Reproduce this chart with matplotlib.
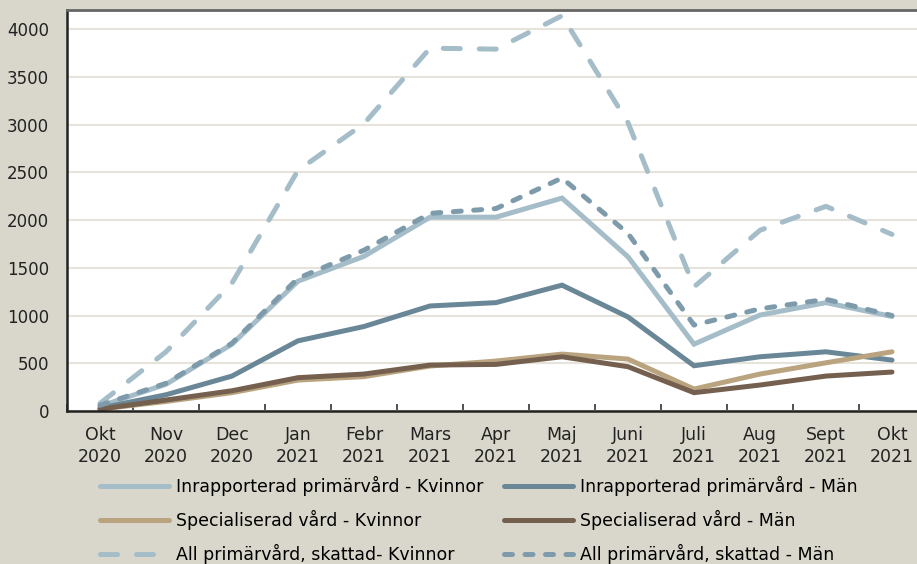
import matplotlib
matplotlib.use('Agg')
import matplotlib.pyplot as plt
from matplotlib.ticker import FixedLocator, MultipleLocator

# months on the x axis (two-line labels)
months = ["Okt\n2020", "Nov\n2020", "Dec\n2020", "Jan\n2021", "Febr\n2021", "Mars\n2021",
          "Apr\n2021", "Maj\n2021", "Juni\n2021", "Juli\n2021", "Aug\n2021", "Sept\n2021",
          "Okt\n2021"]

# values
inrap_kvinnor = [50, 280, 700, 1360, 1620, 2030, 2030, 2230, 1615, 700, 1005, 1135, 990]
inrap_man = [30, 170, 366, 735, 885, 1100, 1135, 1318, 985, 474, 568, 620, 533]
spec_kvinnor = [20, 100, 192, 324, 360, 471, 523, 596, 544, 230, 387, 505, 620]
spec_man = [20, 115, 212, 349, 387, 481, 488, 568, 464, 192, 272, 366, 408]
all_kvinnor = [80, 620, 1340, 2520, 3010, 3800, 3790, 4140, 3020, 1300, 1893, 2144, 1850]
all_man = [60, 290, 710, 1390, 1684, 2070, 2120, 2440, 1860, 900, 1070, 1170, 1000]

BG = '#d9d7cb'
C_LIGHT = '#a4bdc8'
C_DARK = '#6a8797'
C_MID = '#7e9bab'
C_TAN = '#b9a47f'
C_BROWN = '#75604f'

plt.rcParams['font.family'] = ['DejaVu Sans']
FS = 12.5

fig = plt.figure(figsize=(9.17, 5.64), dpi=100, facecolor=BG)
ax = fig.add_axes([67 / 917, 1 - 411 / 564, (925 - 67) / 917, (411 - 10) / 564])
ax.set_facecolor('white')

x = list(range(len(months)))
lw = 3.6
kw = dict(linewidth=lw, solid_capstyle='round', dash_capstyle='round', solid_joinstyle='miter')
l1, = ax.plot(x, inrap_kvinnor, color=C_LIGHT, label='Inrapporterad primärvård - Kvinnor', **kw)
l2, = ax.plot(x, inrap_man, color=C_DARK, label='Inrapporterad primärvård - Män', **kw)
l3, = ax.plot(x, spec_kvinnor, color=C_TAN, label='Specialiserad vård - Kvinnor', **kw)
l4, = ax.plot(x, spec_man, color=C_BROWN, label='Specialiserad vård - Män', **kw)
l5, = ax.plot(x, all_kvinnor, color=C_LIGHT, linestyle=(0, (3.4, 3.8)),
              label='All primärvård, skattad- Kvinnor', **kw)
l6, = ax.plot(x, all_man, color=C_MID, linestyle=(0, (1.6, 2.5)),
              label='All primärvård, skattad - Män', **kw)

ax.set_xlim(-0.5, len(months) - 0.5)
ax.set_ylim(0, 4200)
ax.yaxis.set_major_locator(FixedLocator(range(0, 4001, 500)))
ax.grid(axis='y', color='#e6e3da', linewidth=1.5)
ax.set_axisbelow(True)

ax.set_xticks(x)
ax.set_xticklabels(months, fontsize=FS, color='#222222')
for lbl in ax.get_xticklabels():
    lbl.set_linespacing(1.27)
ax.xaxis.set_minor_locator(MultipleLocator(1, offset=0.5))
ax.tick_params(axis='x', which='major', length=0, pad=11)
ax.tick_params(axis='x', which='minor', direction='in', length=5, width=1.2, color='#333333')
ax.tick_params(axis='y', length=0, pad=13, labelsize=12, labelcolor='#222222')

for side in ['left', 'bottom']:
    ax.spines[side].set_color('#222222')
    ax.spines[side].set_linewidth(1.8)
ax.spines['top'].set_color('#666666')
ax.spines['top'].set_linewidth(2)
ax.spines['right'].set_visible(False)

# legend: two columns placed separately
leg_kw = dict(frameon=False, fontsize=FS, handlelength=4.0, handletextpad=0.4,
              labelspacing=0.8, borderpad=0, borderaxespad=0, loc='upper left',
              bbox_transform=fig.transFigure)
fig.legend([l1, l3, l5], [l1.get_label(), l3.get_label(), l5.get_label()],
           bbox_to_anchor=(100 / 917, 1 - 476 / 564), **leg_kw)
fig.legend([l2, l4, l6], [l2.get_label(), l4.get_label(), l6.get_label()],
           bbox_to_anchor=(504 / 917, 1 - 476 / 564), **leg_kw)

fig.savefig('out.png', dpi=100, facecolor=BG)
